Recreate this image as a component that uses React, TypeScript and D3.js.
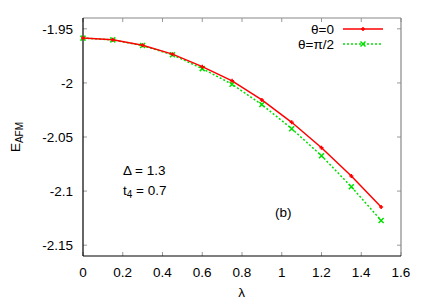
import { useRef, useEffect } from "react";
import * as d3 from "d3";

const lambdas = [0, 0.15, 0.3, 0.45, 0.6, 0.75, 0.9, 1.05, 1.2, 1.35, 1.5];
const theta0 = [-1.9586, -1.9602, -1.9652, -1.9734, -1.985, -1.9981, -2.0157, -2.0364, -2.0599, -2.0861, -2.1148];
const thetaPi2 = [-1.9586, -1.9602, -1.9655, -1.974, -1.9868, -2.0012, -2.02, -2.0423, -2.0673, -2.096, -2.1271];
const xTicks = [0, 0.2, 0.4, 0.6, 0.8, 1, 1.2, 1.4, 1.6];
const yTicks = [-1.95, -2, -2.05, -2.1, -2.15];

const W = 436;
const H = 305;
const M = { left: 83, right: 35, top: 18, bottom: 49 };
const FONT = "'Liberation Sans', Arial, sans-serif";

export default function App() {
  const svgRef = useRef<SVGSVGElement>(null);

  useEffect(() => {
    if (!svgRef.current) return;
    const svg = d3.select(svgRef.current);
    svg.selectAll("*").remove();

    const x = d3.scaleLinear().domain([0, 1.6]).range([M.left, W - M.right]);
    const y = d3.scaleLinear().domain([-2.16, -1.94]).range([H - M.bottom, M.top]);
    const x0 = M.left, x1 = W - M.right, y0 = H - M.bottom, y1 = M.top;

    svg.append("rect").attr("width", W).attr("height", H).attr("fill", "#fff");

    // ticks, inner and mirrored
    const tk = svg.append("g").attr("stroke", "#999").attr("stroke-width", 1);
    xTicks.forEach(t => {
      tk.append("line").attr("x1", x(t)).attr("x2", x(t)).attr("y1", y0).attr("y2", y0 - 4);
      tk.append("line").attr("x1", x(t)).attr("x2", x(t)).attr("y1", y1).attr("y2", y1 + 4);
    });
    yTicks.forEach(t => {
      tk.append("line").attr("x1", x0).attr("x2", x0 + 4).attr("y1", y(t)).attr("y2", y(t));
      tk.append("line").attr("x1", x1).attr("x2", x1 - 4).attr("y1", y(t)).attr("y2", y(t));
    });

    // frame
    svg.append("line").attr("x1", x0).attr("x2", x1).attr("y1", y1).attr("y2", y1).attr("stroke", "#888").attr("stroke-width", 1.2);
    svg.append("line").attr("x1", x1).attr("x2", x1).attr("y1", y1).attr("y2", y0).attr("stroke", "#888").attr("stroke-width", 1.2);
    svg.append("line").attr("x1", x0).attr("x2", x1).attr("y1", y0).attr("y2", y0).attr("stroke", "#000").attr("stroke-width", 1.2);
    svg.append("line").attr("x1", x0).attr("x2", x0).attr("y1", y1).attr("y2", y0).attr("stroke", "#000").attr("stroke-width", 1.2);

    // tick labels
    const lbl = svg.append("g").attr("font-family", FONT).attr("font-size", 13.5).attr("fill", "#000");
    xTicks.forEach(t => {
      lbl.append("text").attr("x", x(t)).attr("y", y0 + 21).attr("text-anchor", "middle").text(String(t));
    });
    yTicks.forEach(t => {
      lbl.append("text").attr("x", x0 - 10).attr("y", y(t) + 5).attr("text-anchor", "end").text(String(t));
    });

    // axis titles
    lbl.append("text").attr("x", x(0.8) - 0.5).attr("y", y0 + 41).attr("text-anchor", "middle").text("λ");
    const yl = lbl.append("text").attr("transform", `translate(20,${(y0 + y1) / 2}) rotate(-90)`).attr("text-anchor", "middle");
    yl.append("tspan").text("E");
    yl.append("tspan").attr("font-size", 10).attr("dy", 3).text("AFM");

    // annotations
    lbl.append("text").attr("x", 123).attr("y", 175).text("Δ = 1.3");
    const t4 = lbl.append("text").attr("x", 123).attr("y", 195);
    t4.append("tspan").text("t");
    t4.append("tspan").attr("font-size", 10).attr("dy", 3).text("4");
    t4.append("tspan").attr("dy", -3).text(" = 0.7");
    lbl.append("text").attr("x", 275).attr("y", 217).text("(b)");

    const line = d3.line<number>().x((_, i) => x(lambdas[i])).y(d => y(d));

    // theta = pi/2 (green dashed, crosses)
    svg.append("path").datum(thetaPi2).attr("fill", "none").attr("stroke", "#00e000")
      .attr("stroke-width", 1.5).attr("stroke-dasharray", "2,2").attr("d", line);
    const cross = (g: d3.Selection<SVGGElement, unknown, null, undefined>, cx: number, cy: number) => {
      g.append("path").attr("d", `M${cx - 2.5},${cy - 2.5}L${cx + 2.5},${cy + 2.5}M${cx - 2.5},${cy + 2.5}L${cx + 2.5},${cy - 2.5}`)
        .attr("stroke", "#00e000").attr("stroke-width", 1.5);
    };
    const gg = svg.append("g");
    thetaPi2.forEach((v, i) => cross(gg, x(lambdas[i]), y(v)));

    // theta = 0 (red solid, plus)
    svg.append("path").datum(theta0).attr("fill", "none").attr("stroke", "#ff0000")
      .attr("stroke-width", 1.5).attr("d", line);
    const plus = (g: d3.Selection<SVGGElement, unknown, null, undefined>, cx: number, cy: number) => {
      g.append("path").attr("d", `M${cx - 2},${cy}L${cx + 2},${cy}M${cx},${cy - 2}L${cx},${cy + 2}`)
        .attr("stroke", "#ff0000").attr("stroke-width", 1.5);
    };
    const gr = svg.append("g");
    theta0.forEach((v, i) => plus(gr, x(lambdas[i]), y(v)));

    // legend
    const lx0 = 343, lx1 = 383;
    lbl.append("text").attr("x", 334).attr("y", 34).attr("text-anchor", "end").text("θ=0");
    svg.append("line").attr("x1", lx0).attr("x2", lx1).attr("y1", 29).attr("y2", 29).attr("stroke", "#ff0000").attr("stroke-width", 1.5);
    plus(gr, (lx0 + lx1) / 2, 29);
    lbl.append("text").attr("x", 334).attr("y", 49).attr("text-anchor", "end").text("θ=π/2");
    svg.append("line").attr("x1", lx0).attr("x2", lx1).attr("y1", 44).attr("y2", 44).attr("stroke", "#00e000")
      .attr("stroke-width", 1.5).attr("stroke-dasharray", "2,2");
    cross(gg, (lx0 + lx1) / 2, 44);
  }, []);

  return (
    <svg ref={svgRef} width={W} height={H} style={{ display: "block", position: "absolute", left: 0, top: 0 }} />
  );
}
